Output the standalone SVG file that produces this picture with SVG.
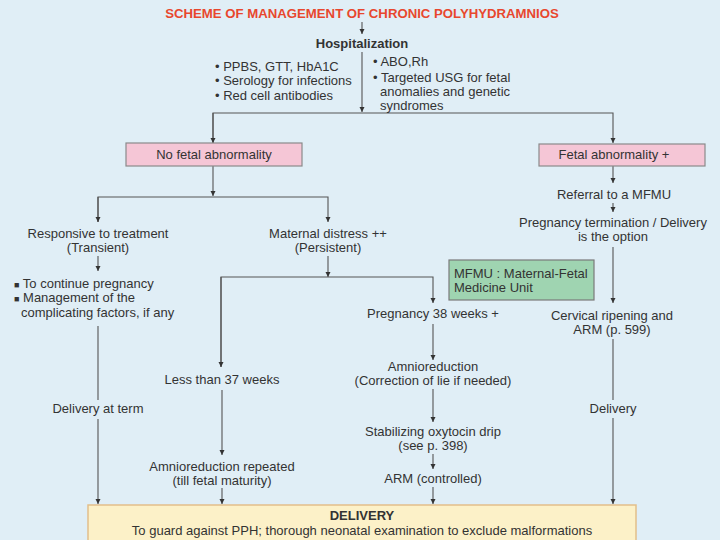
<svg xmlns="http://www.w3.org/2000/svg" width="720" height="540" viewBox="0 0 720 540">
<style>
text{font-family:"Liberation Sans",Arial,sans-serif;font-size:13px;fill:#333}
.c{text-anchor:middle}
.b{font-weight:bold}
.title{font-weight:bold;fill:#e8472e;font-size:13.2px;text-anchor:middle}
.ln{stroke:#555;stroke-width:1.1;fill:none}
.pink{fill:#f5c6d6;stroke:#8a8a8a;stroke-width:1.2}
.green{fill:#9fd4b1;stroke:#7a7a7a;stroke-width:1.2}
.yel{fill:#fcf1c8;stroke:#e2bf8a;stroke-width:1.5}
</style>
<defs>
<marker id="ah" markerWidth="6" markerHeight="6" refX="5" refY="3" orient="auto" markerUnits="userSpaceOnUse">
<path d="M0,0.5 L5,3 L0,5.5 z" fill="#333"/>
</marker>
</defs>
<rect x="0" y="0" width="720" height="540" fill="#e0eef6"/>

<g id="connectors" class="ln">
<line x1="362" y1="22" x2="362" y2="34" marker-end="url(#ah)"/>
<line x1="362" y1="52" x2="362" y2="112" marker-end="url(#ah)"/>
<polyline points="213,143 213,113 613,113 613,143" marker-end="url(#ah)"/>
<line x1="213" y1="113" x2="213" y2="143" marker-end="url(#ah)"/>
<line x1="213" y1="166" x2="213" y2="196" marker-end="url(#ah)"/>
<polyline points="98,222 98,197 328,197 328,222" marker-end="url(#ah)"/>
<line x1="98" y1="197" x2="98" y2="222" marker-end="url(#ah)"/>
<line x1="98" y1="256" x2="98" y2="271" marker-end="url(#ah)"/>
<line x1="98" y1="326" x2="98" y2="400"/>
<line x1="98" y1="419" x2="98" y2="504" marker-end="url(#ah)"/>
<line x1="328" y1="256" x2="328" y2="277" marker-end="url(#ah)"/>
<polyline points="221,367 221,277 433,277 433,303" marker-end="url(#ah)"/>
<line x1="221" y1="277" x2="221" y2="367" marker-end="url(#ah)"/>
<line x1="222" y1="390" x2="222" y2="455" marker-end="url(#ah)"/>
<line x1="222" y1="488" x2="222" y2="504" marker-end="url(#ah)"/>
<line x1="433" y1="324" x2="433" y2="360" marker-end="url(#ah)"/>
<line x1="433" y1="389" x2="433" y2="422" marker-end="url(#ah)"/>
<line x1="433" y1="454" x2="433" y2="469" marker-end="url(#ah)"/>
<line x1="433" y1="487" x2="433" y2="504" marker-end="url(#ah)"/>
<line x1="613" y1="166" x2="613" y2="183" marker-end="url(#ah)"/>
<line x1="613" y1="203" x2="613" y2="212" marker-end="url(#ah)"/>
<line x1="613" y1="247" x2="613" y2="303" marker-end="url(#ah)"/>
<line x1="613" y1="339" x2="613" y2="400"/>
<line x1="613" y1="418" x2="613" y2="504" marker-end="url(#ah)"/>
</g>

<g id="title"><text class="title" x="362" y="18">SCHEME OF MANAGEMENT OF CHRONIC POLYHYDRAMNIOS</text></g>
<g id="hospitalization"><text class="c b" x="362" y="48">Hospitalization</text></g>
<g id="tests-left">
<text x="215" y="71">• PPBS, GTT, HbA1C</text>
<text x="215" y="85">• Serology for infections</text>
<text x="215" y="100">• Red cell antibodies</text>
</g>
<g id="tests-right">
<text x="373" y="66">• ABO,Rh</text>
<text x="373" y="82">• Targeted USG for  fetal</text>
<text x="380" y="96">anomalies and genetic</text>
<text x="380" y="110">syndromes</text>
</g>
<g id="no-fetal-abnormality">
<rect class="pink" x="126" y="143" width="176" height="23"/>
<text class="c" x="214" y="159">No fetal abnormality</text>
</g>
<g id="fetal-abnormality">
<rect class="pink" x="539" y="144" width="166" height="22"/>
<text class="c" x="614" y="159">Fetal abnormality +</text>
</g>
<g id="responsive">
<text class="c" x="98" y="238">Responsive to treatment</text>
<text class="c" x="98" y="252">(Transient)</text>
</g>
<g id="continue">
<text x="14" y="288"><tspan font-size="9">■</tspan> To continue pregnancy</text>
<text x="14" y="302"><tspan font-size="9">■</tspan> Management of the</text>
<text x="21" y="317">complicating factors, if any</text>
</g>
<g id="delivery-at-term"><text class="c" x="98" y="413">Delivery at term</text></g>
<g id="maternal-distress">
<text class="c" x="328" y="238">Maternal distress ++</text>
<text class="c" x="328" y="252">(Persistent)</text>
</g>
<g id="less-than-37"><text class="c" x="222" y="384">Less than 37 weeks</text></g>
<g id="amnio-repeated">
<text class="c" x="222" y="471">Amnioreduction repeated</text>
<text class="c" x="222" y="485">(till fetal maturity)</text>
</g>
<g id="preg-38"><text class="c" x="433" y="318">Pregnancy 38 weeks +</text></g>
<g id="amnioreduction">
<text class="c" x="433" y="371">Amnioreduction</text>
<text class="c" x="433" y="385">(Correction of lie if needed)</text>
</g>
<g id="oxytocin">
<text class="c" x="433" y="436">Stabilizing oxytocin drip</text>
<text class="c" x="433" y="450">(see p. 398)</text>
</g>
<g id="arm-controlled"><text class="c" x="433" y="483">ARM (controlled)</text></g>
<g id="referral"><text class="c" x="614" y="199">Referral to a MFMU</text></g>
<g id="termination">
<text class="c" x="613" y="227">Pregnancy termination / Delivery</text>
<text class="c" x="613" y="241">is the option</text>
</g>
<g id="mfmu-note">
<rect class="green" x="449" y="260" width="145" height="40"/>
<text x="454" y="278">MFMU : Maternal-Fetal</text>
<text x="454" y="292">Medicine Unit</text>
</g>
<g id="cervical">
<text class="c" x="612" y="320">Cervical ripening and</text>
<text class="c" x="612" y="334">ARM (p. 599)</text>
</g>
<g id="delivery-right"><text class="c" x="613" y="413">Delivery</text></g>
<g id="delivery">
<rect class="yel" x="88" y="505" width="548" height="45"/>
<text class="c b" x="362" y="520">DELIVERY</text>
<text class="c" x="362" y="535">To guard against PPH; thorough neonatal examination to exclude malformations</text>
</g>
</svg>
